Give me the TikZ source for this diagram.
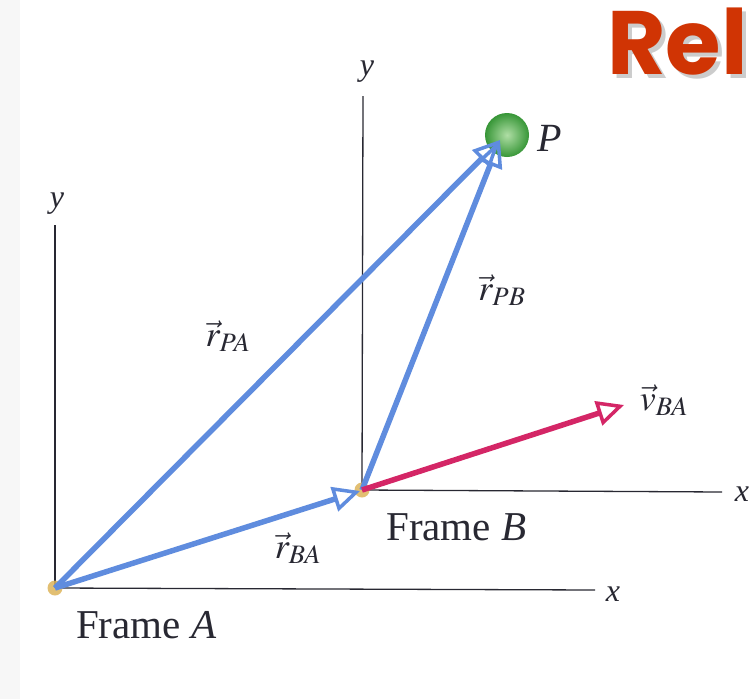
\documentclass[tikz,border=0pt]{standalone}
\usepackage{mathptmx}
\usepackage[no-math]{fontspec}
\setmainfont{Liberation Serif}
\newfontfamily\relfont{Poppins}
\usetikzlibrary{arrows.meta}
\definecolor{vecblue}{RGB}{95,140,222}
\definecolor{vecred}{RGB}{212,38,102}
\definecolor{axisc}{RGB}{40,40,50}
\definecolor{relred}{RGB}{208,52,4}
\definecolor{dotc}{RGB}{222,180,90}
\definecolor{ballin}{RGB}{175,222,165}
\definecolor{ballout}{RGB}{55,150,55}
\tikzset{
  axisline/.style={draw=axisc, line width=1.3pt},
  vecb/.style={draw=vecblue, line width=5.5pt, -{Triangle[open, length=27pt, width=25pt, line width=3.5pt]}},
  vecr/.style={draw=vecred, line width=5.5pt, -{Triangle[open, length=27pt, width=25pt, line width=3.5pt]}},
  lab/.style={font=\fontsize{36}{38}\selectfont, text=axisc, inner sep=0pt},
  axlab/.style={font=\fontsize{32}{34}\selectfont\itshape, text=axisc, inner sep=0pt},
  framelab/.style={font=\fontsize{41}{43}\selectfont, text=axisc, inner sep=0pt},
  origin/.style={circle, fill=dotc, minimum size=15pt, inner sep=0pt, opacity=0.85},
}
\begin{document}
\begin{tikzpicture}[x=1pt,y=-1pt]
\useasboundingbox (0,0) rectangle (755,699);
\fill[white] (0,0) rectangle (755,699);
\fill[gray!6] (0,0) rectangle (20,699);
% origins
\coordinate (A) at (55,588);
\coordinate (B) at (362,490);
\coordinate (P) at (507,135);
% axes
\coordinate (Ay) at (55,225);
\coordinate (Ax) at (595,590);
\coordinate (By) at (363,96);
\coordinate (Bx) at (722,492);
\draw[axisline] (A) -- (Ay);
\draw[axisline] (A) -- (Ax);
\draw[axisline] (B) -- (By);
\draw[axisline] (B) -- (Bx);
\node[axlab] (Aylab) at (57,204) {y};
\node[axlab] (Axlab) at (613,594) {x};
\node[axlab] (Bylab) at (367,72) {y};
\node[axlab] (Bxlab) at (742,494) {x};
% ball
\shade[inner color=ballin, outer color=ballout] (P) circle (22pt);
\node[origin] (Ao) at (A) {};
\node[origin] (Bo) at (B) {};
% vectors
\coordinate (PBtip) at (500,140);
\coordinate (Btip) at (360,491);
\coordinate (vtip) at (624,405);
\draw[vecb] (A) -- (PBtip);
\draw[vecb] (B) -- (PBtip);
\draw[vecb] (A) -- (Btip);
\draw[vecr] (B) -- (vtip);
% labels
\node[lab, font=\fontsize{40}{42}\selectfont\itshape] (Plab) at (550,138) {P};
\node[lab] (rpa) at (228,336) {$\vec{r}_{PA}$};
\node[lab] (rpb) at (502,290) {$\vec{r}_{PB}$};
\node[lab] (rba) at (298,548) {$\vec{r}_{BA}$};
\node[lab] (vba) at (664,400) {$\vec{v}_{BA}$};
\node[framelab, anchor=west] (FA) at (76,625) {Frame \textit{A}};
\node[framelab, anchor=west] (FB) at (386,527) {Frame \textit{B}};
% Rel
\node[inner sep=0pt, anchor=east, text=gray!40, font=\fontsize{90}{90}\selectfont\relfont\bfseries] (relsh) at (752,46) {Rel};
\node[inner sep=0pt, anchor=east, text=relred, font=\fontsize{90}{90}\selectfont\relfont\bfseries] (rel) at (748,42) {Rel};
\end{tikzpicture}
\end{document}
